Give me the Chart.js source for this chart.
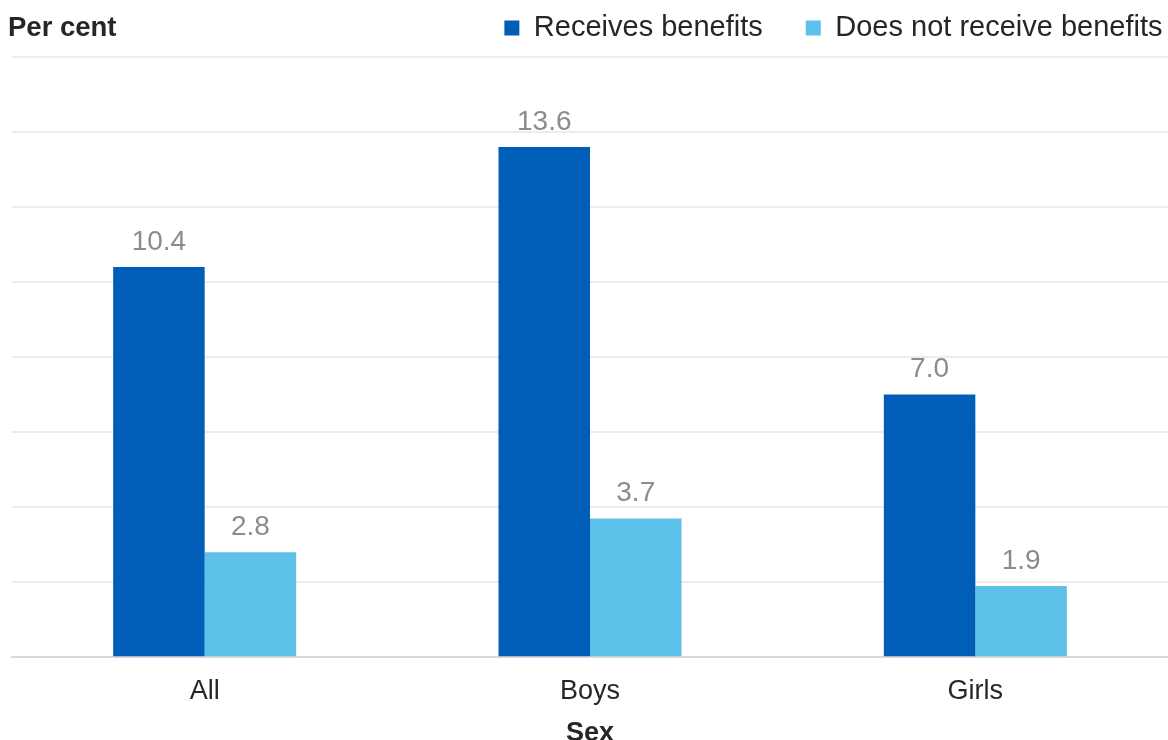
<!DOCTYPE html>
<html>
<head>
<meta charset="utf-8">
<style>
html,body{margin:0;padding:0;background:#fff;}
#wrap{width:1168px;height:740px;position:relative;}
</style>
<script src="https://cdn.jsdelivr.net/npm/chart.js@4.4.0/dist/chart.umd.min.js"></script>
</head>
<body>
<div id="wrap"><canvas id="c" width="1168" height="740"></canvas></div>
<script>
const categories = ["All", "Boys", "Girls"];
const receives = [10.4, 13.6, 7.0];
const doesNotReceive = [2.8, 3.7, 1.9];
const seriesNames = ["Receives benefits", "Does not receive benefits"];
const yTitle = "Per cent";
const xTitle = "Sex";

const FONT = "'Liberation Sans', Arial, sans-serif";

const valueLabels = {
  id: 'valueLabels',
  afterDatasetsDraw(chart) {
    const ctx = chart.ctx;
    ctx.save();
    ctx.font = "28px " + FONT;
    ctx.fillStyle = "#8c8c8c";
    ctx.textAlign = "center";
    ctx.textBaseline = "middle";
    chart.data.datasets.forEach((ds, i) => {
      chart.getDatasetMeta(i).data.forEach((bar, j) => {
        ctx.fillText(ds.data[j].toFixed(1), bar.x, bar.y - 25);
      });
    });
    ctx.restore();
  }
};

const yTitlePlugin = {
  id: 'yTitlePlugin',
  afterDraw(chart) {
    const ctx = chart.ctx;
    ctx.save();
    ctx.font = "bold 27.5px " + FONT;
    ctx.fillStyle = "#262626";
    ctx.textAlign = "left";
    ctx.textBaseline = "middle";
    ctx.fillText(yTitle, 8, 28);
    ctx.restore();
  }
};

const legendFit = {
  id: 'legendFit',
  beforeInit(chart) {
    const lg = chart.legend;
    const orig = lg.fit;
    lg.fit = function () {
      orig.call(this);
      this.height = 86.5;
    };
  },
  afterLayout(chart) {
    chart.legend.right += 34;
  }
};

new Chart(document.getElementById('c'), {
  type: 'bar',
  data: {
    labels: categories,
    datasets: [
      { label: seriesNames[0], data: receives, backgroundColor: '#005EB8', barPercentage: 1, categoryPercentage: 0.475 },
      { label: seriesNames[1], data: doesNotReceive, backgroundColor: '#5EC1EA', barPercentage: 1, categoryPercentage: 0.475 }
    ]
  },
  options: {
    responsive: false,
    animation: false,
    layout: { padding: { left: 12, right: -3.5, top: -29.5, bottom: -10 } },
    plugins: {
      legend: {
        position: 'top',
        align: 'end',
        labels: {
          font: { family: FONT, size: 29 },
          color: '#262626',
          boxWidth: 15,
          boxHeight: 15,
          padding: 43
        }
      },
      tooltip: { enabled: false }
    },
    scales: {
      x: {
        grid: { display: false, drawTicks: false },
        border: { display: true, color: '#d9d9d9', width: 2 },
        ticks: { font: { family: FONT, size: 27 }, color: '#262626', padding: 18 },
        title: { display: true, text: xTitle, font: { family: FONT, size: 27, weight: 'bold' }, color: '#262626', padding: { top: -8, bottom: 0 } }
      },
      y: {
        min: 0, max: 16,
        ticks: { stepSize: 2, display: false },
        border: { display: false },
        grid: { color: '#ececec', lineWidth: 2, drawTicks: false }
      }
    }
  },
  plugins: [legendFit, valueLabels, yTitlePlugin]
});
</script>
</body>
</html>
